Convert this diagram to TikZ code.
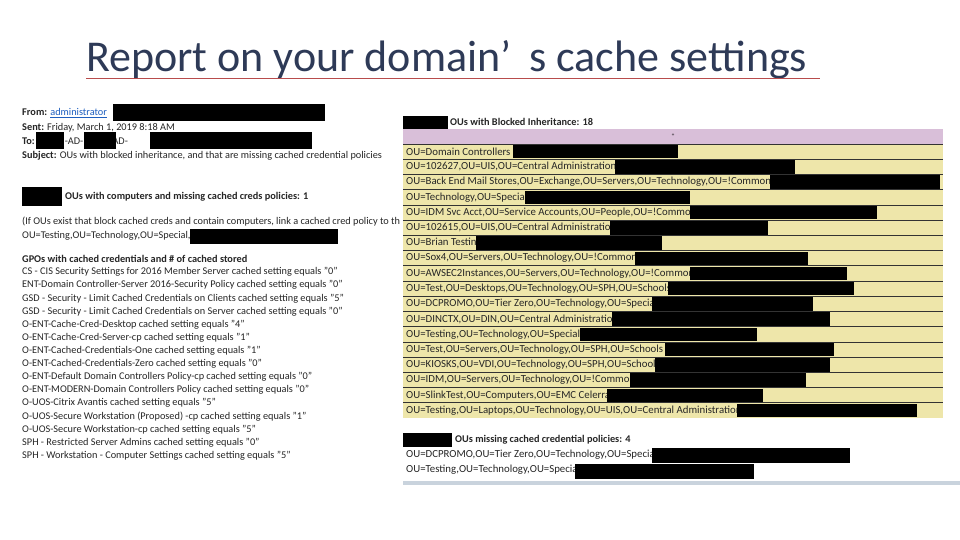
\documentclass[tikz,border=0pt]{standalone}
\usepackage{fontspec}
\setmainfont{Carlito}
\definecolor{titlec}{HTML}{2E3A57}
\definecolor{rowc}{HTML}{EEE6AA}
\definecolor{headc}{HTML}{D9BFD9}
\definecolor{linkc}{HTML}{1F5FBF}
\definecolor{barc}{HTML}{C9D3DD}
\begin{document}
\begin{tikzpicture}[x=1pt,y=-1pt,
  txt/.style={anchor=west,inner sep=0pt,font=\fontsize{10.3}{11}\selectfont,text=black!85},
  rtxt/.style={anchor=west,inner sep=0pt,font=\fontsize{10.8}{11}\selectfont,text=black!85},
  redact/.style={fill=black}]
\useasboundingbox (0,0) rectangle (960,540);
\fill[white] (0,0) rectangle (960,540);
% title
\node[anchor=base west,inner sep=0pt,font=\fontsize{44}{48}\selectfont,text=titlec] (title) at (86,72) {Report on your domain’\hspace{18pt}s cache settings};
\draw[red!60!black!70,line width=0.5pt] (86,78) -- (820,78);
% left email
\node[txt] (from) at (22,113) {\textbf{From:} \textcolor{linkc}{\underline{administrator}}};
\fill[redact] (113,104) rectangle (325,121);
\node[txt] (sent) at (22,128) {\textbf{Sent:} Friday, March 1, 2019 8:18 AM};
\node[txt] (to) at (22,141) {\textbf{To:}\hspace{30pt}-AD-\hspace{24pt}<AD-};
\fill[redact] (36,132) rectangle (64,149);
\fill[redact] (84,132) rectangle (116,149);
\fill[redact] (150,132) rectangle (312,149);
\node[txt] (subj) at (22,156) {\textbf{Subject:} OUs with blocked inheritance, and that are missing cached credential policies};
\fill[redact] (22,187) rectangle (62,206);
\node[txt] (comp) at (65,197) {\textbf{OUs with computers and missing cached creds policies: 1}};
\node[txt] (ifou) at (22,222) {(If OUs exist that block cached creds and contain computers, link a cached cred policy to that OU)};
\node[txt] (outest) at (22,236) {OU=Testing,OU=Technology,OU=Special,};
\fill[redact] (190,229) rectangle (338,244);
\node[txt] (gpos) at (22,259) {\textbf{GPOs with cached credentials and \# of cached stored}};
\foreach \t [count=\i] in {
 CS - CIS Security Settings for 2016 Member Server cached setting equals "0",
 ENT-Domain Controller-Server 2016-Security Policy cached setting equals "0",
 GSD - Security - Limit Cached Credentials on Clients cached setting equals "5",
 GSD - Security - Limit Cached Credentials on Server cached setting equals "0",
 O-ENT-Cache-Cred-Desktop cached setting equals "4",
 O-ENT-Cache-Cred-Server-cp cached setting equals "1",
 O-ENT-Cached-Credentials-One cached setting equals "1",
 O-ENT-Cached-Credentials-Zero cached setting equals "0",
 O-ENT-Default Domain Controllers Policy-cp cached setting equals "0",
 O-ENT-MODERN-Domain Controllers Policy cached setting equals "0",
 O-UOS-Citrix Avantis cached setting equals "5",
 O-UOS-Secure Workstation (Proposed) -cp cached setting equals "1",
 O-UOS-Secure Workstation-cp cached setting equals "5",
 SPH - Restricted Server Admins cached setting equals "0",
 SPH - Workstation - Computer Settings cached setting equals "5"}
 \node[txt] (g\i) at (22,{259+\i*13.1}) {\t};
% right panel (covers the left email's right edge)
\fill[white] (400,110) rectangle (960,486);
\fill[redact] (403,116) rectangle (448,129);
\node[txt] (blk) at (450,122) {\textbf{OUs with Blocked Inheritance: 18}};
\fill[headc] (403,129) rectangle (943,144);
\node[font=\tiny,inner sep=0pt] (hmark) at (673,135) {+};
\fill[rowc] (403,144) rectangle (943,418);
\foreach \t/\a/\b [count=\i] in {
 OU=Domain Controllers/513/678,
 {OU=102627,OU=UIS,OU=Central Administration}/615/795,
 {OU=Back End Mail Stores,OU=Exchange,OU=Servers,OU=Technology,OU=!Common,}/770/940,
 {OU=Technology,OU=Special}/525/690,
 {OU=IDM Svc Acct,OU=Service Accounts,OU=People,OU=!Common}/690/877,
 {OU=102615,OU=UIS,OU=Central Administration}/610/768,
 {OU=Brian Testing}/476/662,
 {OU=Sox4,OU=Servers,OU=Technology,OU=!Common}/635/808,
 {OU=AWSEC2Instances,OU=Servers,OU=Technology,OU=!Common}/690/847,
 {OU=Test,OU=Desktops,OU=Technology,OU=SPH,OU=Schools}/668/854,
 {OU=DCPROMO,OU=Tier Zero,OU=Technology,OU=Special}/652/813,
 {OU=DINCTX,OU=DIN,OU=Central Administration}/612/830,
 {OU=Testing,OU=Technology,OU=Special}/580/757,
 {OU=Test,OU=Servers,OU=Technology,OU=SPH,OU=Schools}/665/834,
 {OU=KIOSKS,OU=VDI,OU=Technology,OU=SPH,OU=Schools}/655/830,
 {OU=IDM,OU=Servers,OU=Technology,OU=!Common}/630/806,
 {OU=SlinkTest,OU=Computers,OU=EMC Celerra}/607/763,
 {OU=Testing,OU=Laptops,OU=Technology,OU=UIS,OU=Central Administration}/737/917}
{
 \pgfmathsetmacro{\yy}{144+(\i-1)*15.22}
 \draw[black!80,line width=0.6pt] (403,\yy) -- (943,\yy);
 \node[rtxt] (r\i) at (406,{\yy+7.6}) {\t};
 \fill[redact] (\a,{\yy+1}) rectangle (\b,{\yy+14.5});
}
\fill[redact] (403,433) rectangle (452,447);
\node[txt] (miss) at (455,440) {\textbf{OUs missing cached credential policies: 4}};
\node[rtxt] (m1) at (406,455) {OU=DCPROMO,OU=Tier Zero,OU=Technology,OU=Special};
\fill[redact] (652,448) rectangle (850,463);
\node[rtxt] (m2) at (406,470) {OU=Testing,OU=Technology,OU=Special};
\fill[redact] (575,464) rectangle (754,479);
\fill[barc] (403,481) rectangle (960,485);
\end{tikzpicture}
\end{document}
